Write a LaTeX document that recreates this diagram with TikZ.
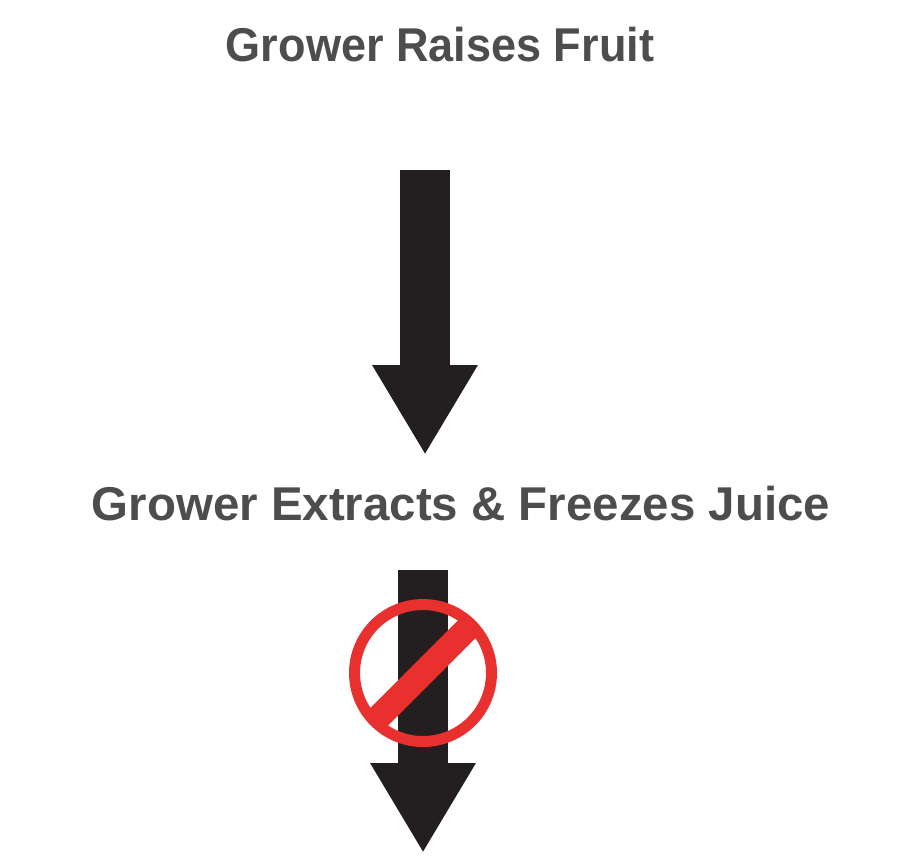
\documentclass[tikz,border=0pt]{standalone}
\usepackage{fontspec}
\setmainfont{Liberation Sans}
\usetikzlibrary{arrows.meta,positioning}
\definecolor{stagegray}{HTML}{4D4D4F}
\definecolor{arrowblack}{HTML}{231F20}
\definecolor{stopred}{HTML}{E8312F}
\tikzset{
    stage/.style={text=stagegray,font=\bfseries\fontsize{27}{32}\selectfont,inner sep=0pt},
    bigarrow/.style={arrowblack,line width=1cm,-{Triangle[length=1.8cm,width=1.98cm]}},
    noentry/.style={stopred,line width=0.22cm}
}

\begin{document}
\begin{tikzpicture}[x=0.02cm,y=-0.02cm]
  \useasboundingbox (0,0) rectangle (901,866);
  \node[stage,xscale=0.95] (S1) at (440,45) {Grower Raises Fruit};
  \node[stage] (S2) at (461,504) {Grower Extracts \& Freezes Juice};
  % arrows between the stages
  \coordinate (A1) at (425,170);
  \coordinate (B1) at (425,455);
  \coordinate (A2) at (423,570);
  \coordinate (B2) at (423,853);
  \draw[bigarrow] (A1) -- (B1);
  \draw[bigarrow] (A2) -- (B2);
  % no entry sign
  \coordinate (C) at (423,673);
  \coordinate (P) at (469,627);
  \coordinate (Q) at (377,719);
  \draw[noentry] (C) circle[radius=1.37cm];
  \draw[noentry,line width=0.5cm] (P) -- (Q);
\end{tikzpicture}
\end{document}
